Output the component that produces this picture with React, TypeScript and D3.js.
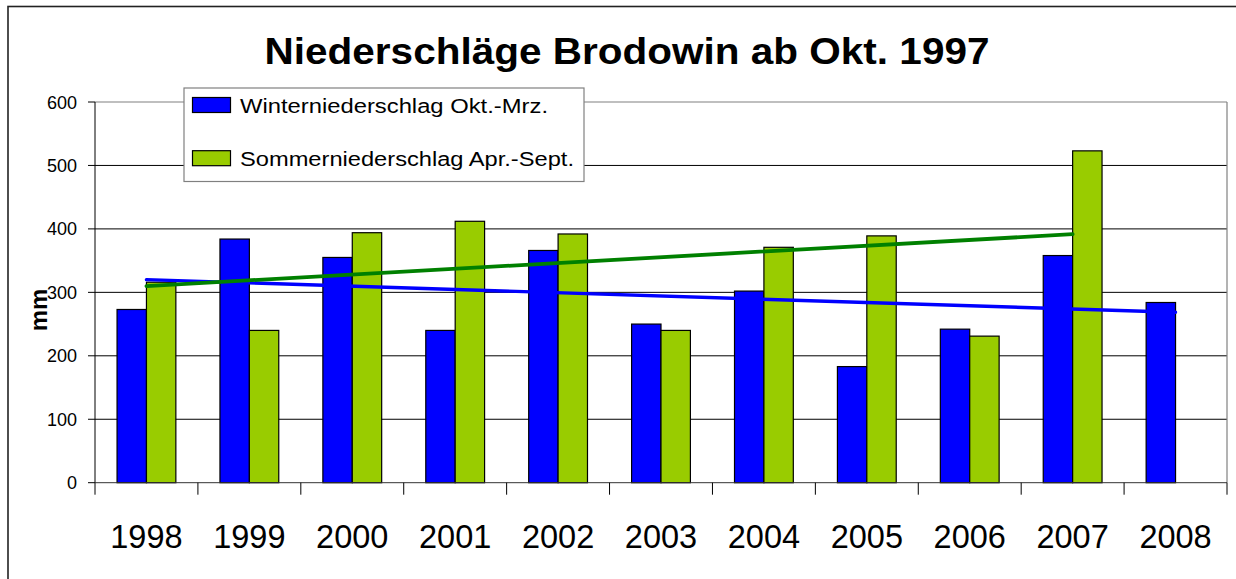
import React from "react";
import * as d3 from "d3";

const years = ["1998", "1999", "2000", "2001", "2002", "2003", "2004", "2005", "2006", "2007", "2008"];
const winter = [273, 384, 355, 240, 366, 250, 302, 183, 242, 358, 284];
const summer: (number | null)[] = [316, 240, 394, 412, 392, 240, 371, 389, 231, 523, null];
const yTicks = [0, 100, 200, 300, 400, 500, 600];
const seriesNames = ["Winterniederschlag Okt.-Mrz.", "Sommerniederschlag Apr.-Sept."];
const title = "Niederschläge Brodowin ab Okt. 1997";
const yLabel = "mm";

const W = 1236;
const H = 579;
const left = 95;
const right = 1227;
const top = 102;
const bottom = 482.7;

function linreg(vals: (number | null)[]) {
  const pts = vals.map((v, i) => [i, v] as [number, number | null]).filter((p) => p[1] != null) as [number, number][];
  const n = pts.length;
  const mx = d3.mean(pts, (p) => p[0])!;
  const my = d3.mean(pts, (p) => p[1])!;
  let sxy = 0, sxx = 0;
  pts.forEach(([x, y]) => { sxy += (x - mx) * (y - my); sxx += (x - mx) * (x - mx); });
  const b = sxy / sxx;
  const a = my - b * mx;
  const x0 = pts[0][0], x1 = pts[n - 1][0];
  return [[x0, a + b * x0], [x1, a + b * x1]] as [number, number][];
}

export default function App() {
  const x = d3.scaleBand<string>().domain(years).range([left, right]).paddingInner(0).paddingOuter(0);
  const cw = x.bandwidth();
  const barW = cw / 3.5;
  const gap = (cw - 2 * barW) / 2;
  const y = d3.scaleLinear().domain([0, 600]).range([bottom, top]);
  const cx = (i: number) => x(years[i])! + cw / 2;
  const line = d3.line<[number, number]>().x((d) => cx(d[0])).y((d) => y(d[1]));
  const wTrend = linreg(winter);
  const sTrend = linreg(summer);
  const boundaries = d3.range(years.length + 1).map((i) => left + i * cw);

  return (
    <svg width={W} height={H} style={{ position: "absolute", left: 0, top: 0, display: "block" }} fontFamily="'Liberation Sans', Arial, sans-serif">
      <rect x={0} y={0} width={W} height={H} fill="#fff" />
      <rect x={8} y={6.5} width={W + 20} height={H + 20} fill="#fff" stroke="#222" strokeWidth={1.6} />
      <text x={627} y={64} textAnchor="middle" fontSize={36} fontWeight="bold" textLength={725} lengthAdjust="spacingAndGlyphs">{title}</text>

      {/* gridlines */}
      {yTicks.filter((t) => t > 0 && t < 600).map((t) => (
        <line key={t} x1={left} x2={right} y1={y(t)} y2={y(t)} stroke="#000" strokeWidth={1} />
      ))}
      <line x1={left} x2={right} y1={y(600)} y2={y(600)} stroke="#808080" strokeWidth={1.2} />
      <line x1={right} x2={right} y1={y(600)} y2={bottom} stroke="#808080" strokeWidth={1.2} />

      {/* bars */}
      {years.map((yr, i) => (
        <g key={yr}>
          <rect x={x(yr)! + gap} y={y(winter[i])} width={barW} height={bottom - y(winter[i])} fill="#0000FF" stroke="#000" strokeWidth={1.2} />
          {summer[i] != null && (
            <rect x={x(yr)! + gap + barW} y={y(summer[i]!)} width={barW} height={bottom - y(summer[i]!)} fill="#99CC00" stroke="#000" strokeWidth={1.2} />
          )}
        </g>
      ))}

      {/* axes */}
      <line x1={left} x2={left} y1={top} y2={bottom} stroke="#000" strokeWidth={1} />
      <line x1={left} x2={right} y1={bottom} y2={bottom} stroke="#333" strokeWidth={1} />
      {yTicks.map((t) => (
        <g key={t}>
          <line x1={left - 7} x2={left} y1={y(t)} y2={y(t)} stroke="#000" />
          <text x={77} y={y(t) + 6.5} textAnchor="end" fontSize={18}>{t}</text>
        </g>
      ))}
      {boundaries.map((b, i) => (
        <line key={i} x1={b} x2={b} y1={bottom} y2={bottom + 12} stroke="#000" />
      ))}
      {years.map((yr, i) => (
        <text key={yr} x={cx(i)} y={548} textAnchor="middle" fontSize={32.5}>{yr}</text>
      ))}
      <text transform="translate(46.5,310) rotate(-90)" textAnchor="middle" fontSize={24} fontWeight="bold">{yLabel}</text>

      {/* trend lines */}
      <path d={line(wTrend)!} fill="none" stroke="#0000FF" strokeWidth={3.4} strokeLinecap="round" />
      <path d={line(sTrend)!} fill="none" stroke="#008000" strokeWidth={3.8} strokeLinecap="round" />

      {/* legend */}
      <rect x={184} y={88} width={400} height={93.5} fill="#fff" stroke="#808080" strokeWidth={1.2} />
      <rect x={192.5} y={97.5} width={38} height={15} fill="#0000FF" stroke="#000" strokeWidth={1.2} />
      <rect x={192.5} y={150.7} width={38} height={15} fill="#99CC00" stroke="#000" strokeWidth={1.2} />
      <text x={240} y={113.3} fontSize={20} textLength={308} lengthAdjust="spacingAndGlyphs">{seriesNames[0]}</text>
      <text x={240} y={165.5} fontSize={20} textLength={334} lengthAdjust="spacingAndGlyphs">{seriesNames[1]}</text>
    </svg>
  );
}
